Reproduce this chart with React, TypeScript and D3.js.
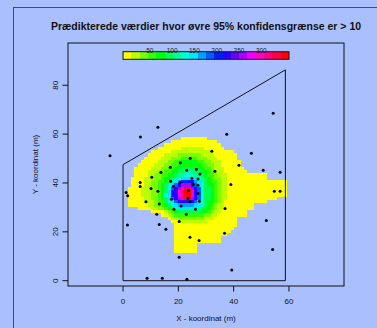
import React from "react";
import * as d3 from "d3";

const W = 377;
const H = 328;

const titleText = "Prædikterede værdier hvor øvre 95% konfidensgrænse er > 10";
const xLabel = "X - koordinat (m)";
const yLabel = "Y - koordinat (m)";
const xTicks = [0, 20, 40, 60];
const yTicks = [0, 20, 40, 60, 80];
const legendTicks = [50, 100, 150, 200, 250, 300];
const legendDomain = [-10, 362];
const nLevels = 20;

// study-area boundary (m)
const boundaryX = [0, 0, 58.7, 58.7];
const boundaryY = [0, 47.5, 86.3, 0];

// observation points (m)
const pointsX = [54.3, 12.6, 6.3, 37.5, -4.7, 32.1, 46.4, 20.7, 24.3, 41.9, 17.1, 23.0, 26.5, 33.2, 50.7, 56.8, 13.7, 27.8, 10.4, 24.9, 27.1, 17.2, 20.6, 6.2, 6.2, 25.4, 27.1, 39.0, 18.2, 10.1, 12.6, 23.6, 27.1, 1.1, 1.7, 54.7, 56.8, 23.5, 17.5, 8.3, 24.2, 27.6, 13.1, 21.0, 36.9, 18.4, 26.2, 12.2, 22.9, 20.3, 51.8, 1.6, 13.1, 15.5, 36.7, 24.2, 27.5, 54.1, 20.3, 39.3, 8.7, 14.2, 23.1];
const pointsY = [68.5, 62.8, 58.8, 59.9, 51.1, 53.0, 52.2, 48.3, 50.1, 47.3, 46.4, 45.2, 45.6, 44.8, 45.2, 44.4, 44.4, 43.7, 42.3, 41.9, 41.6, 40.7, 40.3, 40.2, 38.6, 39.4, 39.1, 39.4, 38.7, 37.7, 36.6, 36.9, 35.7, 36.1, 34.8, 36.6, 36.6, 33.7, 33.3, 32.3, 32.3, 32.5, 31.4, 30.6, 29.6, 29.2, 29.2, 27.2, 27.2, 24.2, 24.6, 22.8, 23.0, 21.1, 19.4, 17.8, 16.5, 12.8, 9.6, 4.4, 1.0, 1.0, 0.6];

// prediction grid: origin, cell size (m)
const gridX0 = 1.7;
const gridDX = 1.2;
const gridYTop = 58.9;
const gridDY = 1.36;
const gridCols = 48;

// per grid row: [firstCol, lastCol, colourLevel] runs, later runs overwrite earlier
const heatRows: [number, number, number][][] = [
  [[16, 23, 0]],
  [[13, 26, 0]],
  [[11, 27, 0]],
  [[9, 28, 0], [16, 22, 1]],
  [[7, 31, 0], [13, 24, 1]],
  [[6, 32, 0], [11, 25, 1], [15, 21, 2]],
  [[5, 32, 0], [10, 26, 1], [13, 23, 2], [16, 20, 3]],
  [[4, 33, 0], [9, 27, 1], [12, 24, 2], [14, 22, 3], [16, 20, 4]],
  [[3, 33, 0], [8, 27, 1], [11, 25, 2], [13, 23, 3], [15, 21, 4]],
  [[2, 34, 0], [7, 28, 1], [10, 25, 2], [12, 24, 3], [14, 22, 4], [16, 20, 5]],
  [[2, 35, 0], [6, 28, 1], [9, 26, 2], [11, 24, 3], [13, 23, 4], [15, 21, 5], [17, 19, 6]],
  [[2, 41, 0], [6, 29, 1], [8, 26, 2], [10, 25, 3], [12, 23, 4], [14, 22, 5], [15, 21, 6], [17, 19, 7]],
  [[1, 41, 0], [5, 29, 1], [8, 27, 2], [10, 25, 3], [11, 24, 4], [13, 23, 5], [14, 22, 6], [15, 21, 7], [16, 20, 8]],
  [[1, 47, 0], [5, 29, 1], [7, 27, 2], [9, 26, 3], [11, 24, 4], [12, 23, 5], [13, 22, 6], [14, 21, 8], [15, 20, 9], [16, 19, 11]],
  [[1, 47, 0], [5, 29, 1], [7, 27, 2], [9, 26, 3], [10, 25, 4], [11, 23, 5], [12, 22, 7], [13, 21, 8], [14, 20, 10], [15, 19, 12], [16, 18, 14]],
  [[0, 47, 0], [4, 29, 1], [7, 27, 2], [9, 26, 3], [10, 25, 4], [11, 24, 5], [12, 22, 7], [13, 21, 8], [13, 21, 10], [14, 20, 12], [15, 19, 14], [16, 18, 16], [17, 18, 18]],
  [[0, 47, 0], [4, 29, 1], [7, 27, 2], [9, 26, 3], [10, 25, 4], [11, 24, 5], [12, 22, 7], [12, 21, 8], [13, 21, 10], [13, 20, 12], [15, 19, 16], [16, 16, 17], [17, 18, 19]],
  [[0, 47, 0], [4, 29, 1], [7, 27, 2], [9, 26, 3], [10, 25, 4], [11, 24, 5], [11, 22, 7], [12, 21, 8], [13, 21, 10], [13, 20, 12], [15, 19, 15], [16, 18, 17], [17, 18, 19]],
  [[0, 44, 0], [5, 29, 1], [7, 27, 2], [9, 26, 3], [10, 25, 4], [11, 24, 5], [12, 22, 7], [12, 21, 8], [13, 21, 10], [14, 20, 12], [15, 19, 14], [16, 18, 17], [17, 18, 18]],
  [[0, 41, 0], [5, 28, 1], [8, 27, 2], [9, 26, 3], [11, 25, 4], [11, 23, 5], [12, 22, 7], [13, 21, 8], [14, 20, 10], [15, 19, 12]],
  [[0, 37, 0], [6, 28, 1], [8, 26, 2], [10, 25, 3], [11, 24, 4], [12, 23, 5], [13, 22, 7], [14, 21, 8], [15, 19, 9]],
  [[3, 37, 0], [7, 28, 1], [9, 26, 2], [11, 25, 3], [12, 24, 4], [13, 22, 5], [14, 21, 6], [15, 20, 8]],
  [[7, 35, 0], [11, 27, 1], [12, 25, 2], [13, 24, 3], [14, 23, 4], [15, 21, 5]],
  [[10, 35, 0], [12, 26, 1], [13, 24, 2], [14, 22, 3]],
  [[12, 32, 0], [13, 25, 1], [15, 22, 2]],
  [[13, 32, 0], [15, 23, 1]],
  [[14, 32, 0]],
  [[14, 31, 0]],
  [[14, 30, 0]],
  [[14, 29, 0]],
  [[14, 27, 0]],
  [[14, 27, 0]],
  [[14, 20, 0]],
  [[14, 20, 0]],
  [[14, 20, 0]],
];

const FONT = "'Liberation Sans', Arial, Helvetica, sans-serif";
const BG = "#aac0fe";

export default function App() {
  const x = d3.scaleLinear().domain([-19.9, 79.9]).range([68, 344]);
  const y = d3.scaleLinear().domain([-2.17, 97.3]).range([286, 43]);
  const palette = d3.range(nLevels).map((i) => d3.hsl(60 + (i * 300) / (nLevels - 1), 1, 0.5).formatHex());
  const leg = d3.scaleLinear().domain(legendDomain).range([x(0), x(60)]);
  const legTop = 51.7;
  const legBottom = 59.3;

  // build grid cells
  const cells: { r: number; c: number; lv: number }[] = [];
  heatRows.forEach((runs, r) => {
    const row: number[] = new Array(gridCols).fill(-1);
    runs.forEach(([c0, c1, lv]) => {
      for (let c = c0; c <= c1; c++) row[c] = lv;
    });
    row.forEach((lv, c) => {
      if (lv >= 0) cells.push({ r, c, lv });
    });
  });

  const polyPts = boundaryX.map((bx, i) => [x(bx), y(boundaryY[i])] as [number, number]);
  const line = d3.line().curve(d3.curveLinearClosed);

  const legStep = (leg.range()[1] - leg.range()[0]) / nLevels;

  return (
    <svg
      width={W}
      height={H}
      style={{ position: "absolute", left: 0, top: 0, display: "block" }}
      fontFamily={FONT}
    >
      <rect x={0} y={0} width={W} height={H} fill={BG} />
      <rect x={13.5} y={7.5} width={420} height={420} fill="none" stroke="#4a4a55" strokeWidth={1} />

      <text x={206} y={30} textAnchor="middle" fontSize={10.5} fontWeight="bold" fill="#111">
        {titleText}
      </text>

      {/* heat map */}
      <g shapeRendering="crispEdges">
        {cells.map(({ r, c, lv }) => {
          const x0 = x(gridX0 + c * gridDX);
          const x1 = x(gridX0 + (c + 1) * gridDX);
          const y0 = y(gridYTop - r * gridDY);
          const y1 = y(gridYTop - (r + 1) * gridDY);
          return <rect key={`${r}-${c}`} x={x0} y={y0} width={x1 - x0} height={y1 - y0} fill={palette[lv]} />;
        })}
      </g>

      {/* boundary */}
      <path d={line(polyPts) || ""} fill="none" stroke="#111" strokeWidth={1} />

      {/* points */}
      {pointsX.map((px, i) => (
        <circle key={i} cx={x(px)} cy={y(pointsY[i])} r={1.5} fill="#000" />
      ))}

      {/* colour bar */}
      <g shapeRendering="crispEdges">
        {palette.map((col, i) => (
          <rect key={i} x={leg.range()[0] + i * legStep} y={legTop} width={legStep + 0.3} height={legBottom - legTop} fill={col} />
        ))}
      </g>
      <rect x={leg.range()[0]} y={legTop} width={leg.range()[1] - leg.range()[0]} height={legBottom - legTop} fill="none" stroke="#111" strokeWidth={1} />
      {legendTicks.map((t) => (
        <text key={t} x={leg(t)} y={53} textAnchor="middle" fontSize={6.5} fill="#222">
          {t}
        </text>
      ))}

      {/* plot box */}
      <rect x={68} y={43} width={276} height={243} fill="none" stroke="#111" strokeWidth={1} />

      {/* x axis */}
      {xTicks.map((t) => (
        <g key={t}>
          <line x1={x(t)} x2={x(t)} y1={286} y2={291.5} stroke="#111" />
          <text x={x(t)} y={303.5} textAnchor="middle" fontSize={8} fill="#111">
            {t}
          </text>
        </g>
      ))}
      <text x={206} y={320.5} textAnchor="middle" fontSize={8} fill="#111">
        {xLabel}
      </text>

      {/* y axis */}
      {yTicks.map((t) => (
        <g key={t}>
          <line x1={62.5} x2={68} y1={y(t)} y2={y(t)} stroke="#111" />
          <text transform={`translate(58.3,${y(t)}) rotate(-90)`} textAnchor="middle" fontSize={8} fill="#111">
            {t}
          </text>
        </g>
      ))}
      <text transform={`translate(38,164.5) rotate(-90)`} textAnchor="middle" fontSize={8} fill="#111">
        {yLabel}
      </text>
    </svg>
  );
}
